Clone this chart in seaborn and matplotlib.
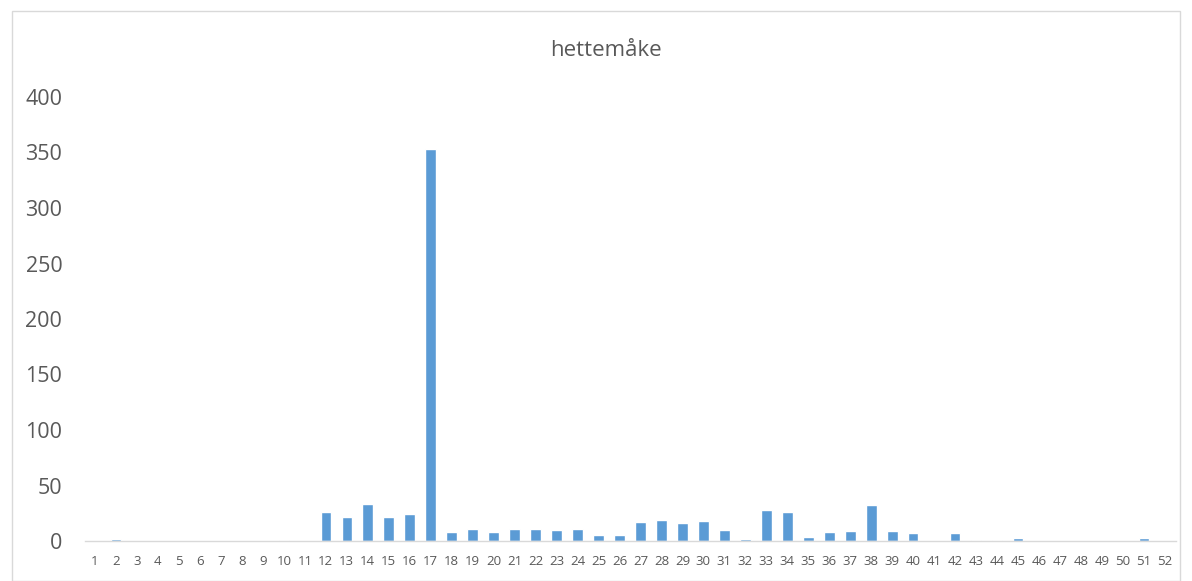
import matplotlib
matplotlib.use("Agg")
import matplotlib.pyplot as plt
import seaborn as sns
import pandas as pd
from matplotlib.patches import Rectangle

weeks = [str(i) for i in range(1, 53)]
counts = [0, 2, 0, 0, 0, 0, 0, 0, 0, 1,
          0, 26, 22, 33, 22, 24, 353, 8, 11, 8,
          11, 11, 10, 11, 5, 5, 17, 19, 16, 18,
          10, 2, 28, 26, 4, 8, 9, 32, 9, 7,
          0, 7, 1, 1, 3, 0, 0, 0, 0, 0,
          3, 0]
title = "hettemåke"

sns.set_theme(style="white")
plt.rcParams['font.family'] = ['Open Sans', 'DejaVu Sans']

df = pd.DataFrame({"week": weeks, "count": counts})

fig = plt.figure(figsize=(11.92, 5.81), dpi=100)
ax = fig.add_axes([84.5/1192, 1 - 541/581, (1175.5 - 84.5)/1192, (541 - 97)/581])

sns.barplot(data=df, x="week", y="count", color="#5B9BD5", saturation=1,
            width=0.5, ax=ax)

ax.set_xlim(-0.5, 51.5)
ax.set_ylim(0, 400)
ax.set_yticks(range(0, 401, 50))
ax.set_xlabel("")
ax.set_ylabel("")
for s in ["top", "right", "left"]:
    ax.spines[s].set_visible(False)
ax.spines["bottom"].set_color("#D9D9D9")
ax.spines["bottom"].set_linewidth(1)
ax.tick_params(axis="y", length=0, pad=16, labelsize=15.5, labelcolor="#595959")
ax.tick_params(axis="x", length=0, pad=10, labelsize=9.5, labelcolor="#595959")

fig.text(606/1192, 1 - 50/581, title, ha="center", va="center",
         fontsize=16, color="#595959")

fig.patches.append(Rectangle((12/1192, 0), (1180 - 12)/1192, 1 - 11/581,
                             transform=fig.transFigure, fill=False,
                             edgecolor="#D9D9D9", linewidth=1))

fig.savefig("out.png", dpi=100)
